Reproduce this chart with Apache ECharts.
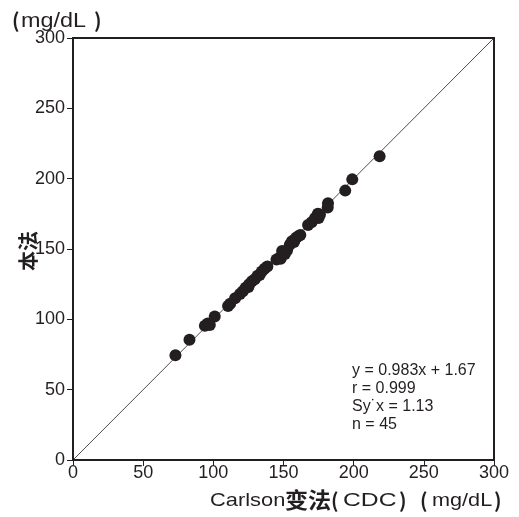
<!DOCTYPE html>
<html><head><meta charset="utf-8">
<script src="https://cdn.jsdelivr.net/npm/echarts@6/dist/echarts.min.js"></script>
<style>html,body{margin:0;padding:0;background:#fff}#c{width:519px;height:517px}</style>
</head><body><div id="c"></div>
<script>
var xTicks = [0, 50, 100, 150, 200, 250, 300];
var yTicks = [0, 50, 100, 150, 200, 250, 300];
var methodX = [73, 83, 94, 96, 97.5, 101, 110.5, 112, 115.5, 119, 121, 123, 125, 125.5, 127.5, 129.5, 131.5, 133, 134.5, 136.5, 138.5, 145, 147.5, 148, 149, 151, 152.5, 154.5, 156, 157.5, 158, 159, 160.5, 162, 167.5, 170, 172.5, 174.5, 176, 175, 181.5, 181.7, 194, 199, 218.5];
var methodY = [74.5, 85.5, 95.5, 97, 96, 102, 109.5, 111, 115, 118, 120, 122.5, 123, 125, 127, 128.5, 131, 131.5, 134, 136, 137.5, 142.5, 144, 143, 148.5, 146.5, 149, 153, 155.5, 155, 156.5, 158, 159, 160, 167, 169, 172, 175, 174.5, 172, 179.5, 182.5, 191.5, 199.5, 216];
var stats = ["y = 0.983x + 1.67", "r = 0.999", "Sy\u02d9x = 1.13", "n = 45"];
var identity = [[0, 0], [300, 300]];

var pts = methodX.map(function (x, i) { return [x, methodY[i]]; });
var chart = echarts.init(document.getElementById('c'));
var font = '"Liberation Sans", Arial, sans-serif';
var cjk = '"Noto Sans CJK SC"';
var ink = '#231f20';
function axis(extra) {
  return Object.assign({
    type: 'value', min: 0, max: 300, interval: 50,
    axisLine: { show: true, onZero: false, lineStyle: { color: ink, width: 2 } },
    axisTick: { show: true, inside: false, length: 6, lineStyle: { color: ink, width: 1 } },
    splitLine: { show: false },
    axisLabel: { color: ink, fontSize: 18, fontFamily: font, margin: 8 }
  }, extra);
}
function t(str, x, y, f, sx, extra) {
  return Object.assign({ type: 'text', x: x, y: y, scaleX: sx || 1,
    style: { text: str, font: f, fill: ink, verticalAlign: 'middle' } }, extra || {});
}
var titleF = '19px ' + font;
var parF = 'bold 20px ' + cjk;
chart.setOption({
  animation: false,
  grid: { left: 73, right: 25, top: 38, bottom: 57, show: true, borderColor: ink, borderWidth: 2, backgroundColor: 'transparent', outerBoundsMode: 'none', containLabel: false },
  xAxis: axis({ axisLabel: { color: ink, fontSize: 18, fontFamily: font, margin: 4 } }),
  yAxis: axis({}),
  series: [
    { type: 'line', data: identity, symbol: 'none', lineStyle: { color: ink, width: 0.8 }, z: 1 },
    { type: 'scatter', data: pts, symbolSize: 12, itemStyle: { color: ink, opacity: 1 }, z: 2 }
  ],
  graphic: [
    { type: 'text', x: 28, y: 251, rotation: Math.PI / 2,
      style: { text: '本法', font: 'bold 20px ' + cjk, fill: ink, align: 'center', verticalAlign: 'middle' } },
    t('(', 12, 20, parF),
    t('mg/dL', 21, 21, '20px ' + font, 1.17),
    t(')', 94, 20, parF),
    t('Carlson', 210, 501, titleF, 1.15),
    t('变法', 285, 500, 'bold 22px ' + cjk, 1.05),
    t('(', 331, 500, parF),
    t('CDC', 343, 501, titleF, 1.3),
    t(')', 399, 500, parF),
    t('(', 420, 500, parF),
    t('mg/dL', 432, 501, titleF, 1.14),
    t(')', 494, 500, parF),
    { type: 'text', x: 352, y: 361, style: { text: stats.join('\n'), font: '16px ' + font, lineHeight: 18.3, fill: ink } }
  ]
});
</script></body></html>
